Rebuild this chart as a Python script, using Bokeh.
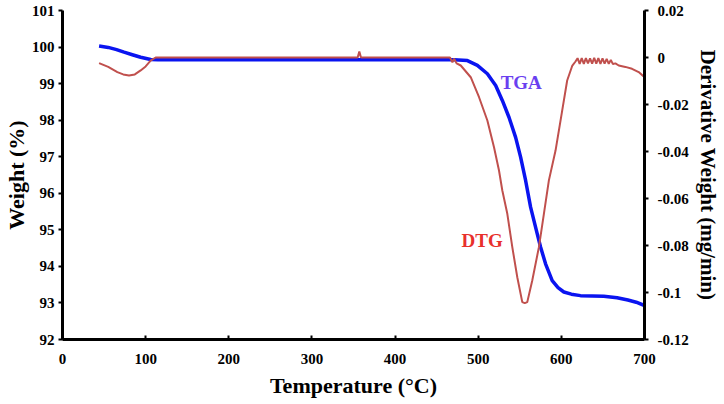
from bokeh.plotting import figure
from bokeh.models import Range1d, LinearAxis, FixedTicker, CustomJSTickFormatter, ColumnDataSource
from bokeh.core.properties import value
from bokeh.embed import file_html
from bokeh.resources import INLINE

# ---- data ----
tga_temp = [44, 55, 65, 74, 84, 94, 106, 115, 200, 300, 400, 460, 471, 487, 499, 511,
            521, 529, 537, 545, 551, 557, 563, 571, 575, 581, 589, 596, 603, 612,
            623, 637, 651, 667, 680, 690, 700]
tga_weight = [100.03, 99.99, 99.93, 99.86, 99.79, 99.72, 99.66, 99.65, 99.65, 99.65, 99.65,
              99.65, 99.65, 99.63, 99.50, 99.27, 98.95, 98.54, 98.08, 97.53, 96.99,
              96.35, 95.62, 94.89, 94.53, 94.07, 93.61, 93.42, 93.30, 93.24, 93.20,
              93.19, 93.18, 93.14, 93.08, 93.02, 92.93]

dtg_temp = [44, 55, 66, 73, 80, 87, 94, 100, 106, 112, 200, 300, 355, 357, 359, 400,
            460, 466, 469, 471, 474, 479, 491, 501, 511, 519, 525, 529, 535, 541,
            547, 553, 556, 559, 565, 573, 579, 585, 593, 601, 607, 613, 617,
            619.5, 622, 624.5, 627, 629.5, 632, 634.5, 637, 639.5, 642, 644.5, 647,
            649.5, 652, 654.5, 657, 659.5, 662, 665, 669, 677, 685, 693, 700]
dtg_value = [-0.0024, -0.0040, -0.0062, -0.0072, -0.0077, -0.0072, -0.0055, -0.0038,
             -0.0013, 0.0, 0.0, 0.0, 0.0, 0.0025, 0.0, 0.0,
             0.0, 0.0, -0.0020, -0.0005, -0.0025, -0.0034, -0.0084, -0.0169, -0.0268,
             -0.0382, -0.0481, -0.0566, -0.0665, -0.0807, -0.0935, -0.1041, -0.1045,
             -0.1041, -0.0949, -0.0807, -0.0665, -0.0523, -0.0396, -0.0226, -0.0098,
             -0.0036, -0.0017,
             -0.0003, -0.0027, -0.0003, -0.0027, -0.0003, -0.0025, -0.0004, -0.0026,
             -0.0002, -0.0026, -0.0003, -0.0027, -0.0004, -0.0026, -0.0006, -0.0027,
             -0.0010, -0.0028, -0.0025, -0.0034, -0.0040, -0.0048, -0.0062, -0.0084]

x_ticks = [0, 100, 200, 300, 400, 500, 600, 700]
weight_ticks = [92, 93, 94, 95, 96, 97, 98, 99, 100, 101]
dtg_ticks = [0.02, 0.0, -0.02, -0.04, -0.06, -0.08, -0.1, -0.12]

series_labels = ["TGA", "DTG"]

FONT = "Liberation Serif"

p = figure(width=722, height=403, output_backend="svg", toolbar_location=None,
           x_range=Range1d(0, 700), y_range=Range1d(92, 101),
           min_border_left=62, min_border_right=78, min_border_top=10, min_border_bottom=64)
p.outline_line_color = None
p.xgrid.visible = False
p.ygrid.visible = False
p.background_fill_color = "white"
p.border_fill_color = "white"

p.extra_y_ranges = {"dtg": Range1d(-0.12, 0.02)}

tga_src = ColumnDataSource(dict(t=tga_temp, w=tga_weight))
dtg_src = ColumnDataSource(dict(t=dtg_temp, d=dtg_value))

p.line("t", "w", source=tga_src, line_color="#0a14f0", line_width=3.5)
p.line("t", "d", source=dtg_src, y_range_name="dtg", line_color="#c0504d", line_width=2)

# series labels
p.text(x=[527], y=[99.03], text=[series_labels[0]], text_font=value(FONT),
       text_font_style="bold", text_font_size="19px", text_color="#6a3ff0",
       text_baseline="middle", text_align="left")
p.text(x=[480], y=[94.71], text=[series_labels[1]], text_font=value(FONT),
       text_font_style="bold", text_font_size="19px", text_color="#e8302c",
       text_baseline="middle", text_align="left")

# axes styling
def style_axis(ax):
    ax.axis_line_color = "black"
    ax.axis_line_width = 3
    ax.major_tick_line_color = "black"
    ax.major_tick_line_width = 2
    ax.minor_tick_line_color = None
    ax.major_label_text_font = FONT
    ax.major_label_text_font_style = "bold"
    ax.major_label_text_font_size = "15px"
    ax.major_label_text_color = "black"
    ax.axis_label_text_font = FONT
    ax.axis_label_text_font_style = "bold"
    ax.axis_label_text_color = "black"

xa = p.xaxis[0]
style_axis(xa)
xa.ticker = FixedTicker(ticks=x_ticks)
xa.major_tick_in = 4
xa.major_tick_out = 0
xa.major_label_standoff = 14
xa.axis_label = "Temperature (°C)"
xa.axis_label_text_font_size = "22px"
xa.axis_label_standoff = 6

ya = p.yaxis[0]
style_axis(ya)
ya.ticker = FixedTicker(ticks=weight_ticks)
ya.major_tick_in = 0
ya.major_tick_out = 4
ya.major_label_standoff = 4
ya.axis_label = "Weight (%)"
ya.axis_label_text_font_size = "22px"
ya.axis_label_standoff = 0

ra = LinearAxis(y_range_name="dtg")
style_axis(ra)
ra.ticker = FixedTicker(ticks=dtg_ticks)
ra.formatter = CustomJSTickFormatter(code="return String(Math.round(tick*100)/100)")
ra.major_tick_in = 0
ra.major_tick_out = 4
ra.major_label_standoff = 9
ra.axis_label = "Derivative Weight (mg/min)"
ra.axis_label_text_font_size = "21px"
ra.axis_label_standoff = 4
p.add_layout(ra, "right")

open("out.html", "w").write(file_html(p, INLINE))
